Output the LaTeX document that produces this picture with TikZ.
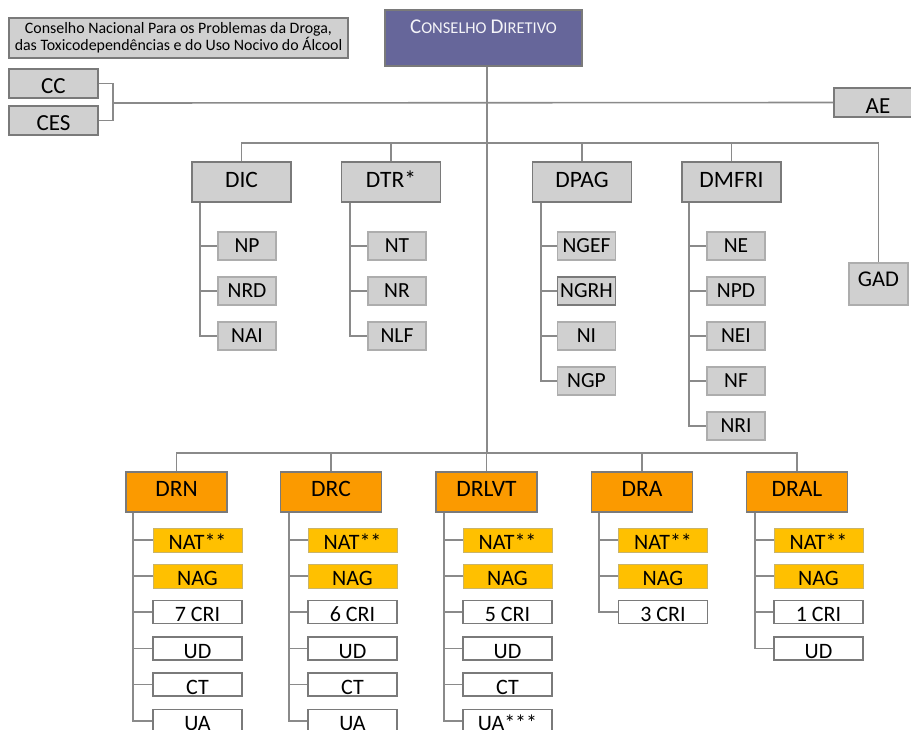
\documentclass[tikz,border=0pt]{standalone}
\usepackage{fontspec}
\setmainfont{Carlito}
\definecolor{boxgray}{HTML}{D0D0D0}
\definecolor{linegray}{HTML}{8A8A8A}
\definecolor{edgegray}{HTML}{7A7A7A}
\definecolor{cdpurple}{HTML}{66669A}
\definecolor{droranje}{HTML}{FB9A00}
\definecolor{natyellow}{HTML}{FFC000}
\definecolor{natedge}{HTML}{C9B46A}
\newcommand{\fsz}[1]{\fontsize{#1}{#1}\selectfont}
\newcommand{\smcap}[2]{{\fsz{21}#1}{\fsz{16.5}#2}}
\tikzset{
	link/.style={draw=linegray,line width=1.6pt},
	topbox/.style={draw=edgegray,fill=boxgray,line width=1.6pt,inner sep=0pt,font=\fsz{23},text height=24pt,text depth=5pt},
	dirbox/.style={draw=edgegray,fill=boxgray,line width=1.6pt,inner sep=0pt,minimum width=99pt,text height=25pt,text depth=15pt,font=\fsz{23.5}},
	subbox/.style={draw=linegray!70,fill=boxgray,line width=1.2pt,inner sep=0pt,minimum width=58pt,minimum height=28pt,font=\fsz{21.5}},
	regbox/.style={draw=edgegray,fill=droranje,line width=1.6pt,inner sep=0pt,minimum width=101pt,text height=24pt,text depth=16pt,font=\fsz{23.5}},
	natbox/.style={draw=natedge,fill=natyellow,line width=0.8pt,inner sep=0pt,minimum width=89pt,text height=21pt,text depth=3pt,font=\fsz{22}},
	udbox/.style={draw=edgegray,fill=white,line width=1.6pt,inner sep=0pt,minimum width=89pt,text height=21pt,text depth=2pt,font=\fsz{22}},
}
\begin{document}
\begin{tikzpicture}[x=1pt,y=-1pt]
	\useasboundingbox (0,0) rectangle (911,729);
	\clip (0,0) rectangle (911,729);
	% top
	\node[draw=edgegray,fill=boxgray,line width=1.6pt,inner sep=0pt,minimum width=339pt,minimum height=40pt,align=center,font=\fsz{15.9}] (cnpd) at (178.5,38) {Conselho Nacional Para os Problemas da Droga,\\[0pt]das Toxicodependências e do Uso Nocivo do Álcool};
	\node[draw=edgegray,fill=cdpurple,line width=1.6pt,inner sep=0pt,minimum width=197pt,text height=23pt,text depth=33pt,text=white!93!cdpurple,font=\fsz{17}] (cd) at (483.5,38) {\smcap{C}{ONSELHO} \smcap{D}{IRETIVO}};
	\node[topbox,minimum width=89pt] (cc) at (53.5,83.5) {CC};
	\node[topbox,minimum width=89pt] (ces) at (53.5,120.5) {CES};
	\node[topbox,minimum width=88pt,text height=25pt,text depth=4pt] (ae) at (878,102.5) {AE};
	\coordinate (brk) at (113,103);
	\coordinate (bus1) at (487,143);
	\coordinate (bus2) at (487,453);
	\draw[link] (cc.east) -| (brk) |- (ces.east);
	\draw[link] (brk) -- (ae.west);
	\draw[link] (cd.south -| bus1) -- (bus2);
	% direcoes
	\node[dirbox] (dic) at (241.5,182) {DIC};
	\node[dirbox] (dtr) at (391,182) {DTR*};
	\node[dirbox] (dpag) at (582,182) {DPAG};
	\node[dirbox] (dmfri) at (731.5,182) {DMFRI};
	\node[subbox,minimum width=59pt,text height=23pt,text depth=19pt,font=\fsz{22.5}] (gad) at (878.5,284) {GAD};
	\draw[link] (dic.north) |- (gad.north |- bus1) -- (gad.north);
	\draw[link] (dtr.north) -- (dtr.north |- bus1);
	\draw[link] (dpag.north) -- (dpag.north |- bus1);
	\draw[link] (dmfri.north) -- (dmfri.north |- bus1);
	\node[subbox] (np) at (247,246) {NP};
	\node[subbox] (nrd) at (247,291) {NRD};
	\node[subbox] (nai) at (247,336) {NAI};
	\draw[link] ([xshift=9pt]dic.south west) |- (nai.west);
	\draw[link] ([xshift=9pt]dic.south west |- np) -- (np.west);
	\draw[link] ([xshift=9pt]dic.south west |- nrd) -- (nrd.west);
	\node[subbox] (nt) at (397,246) {NT};
	\node[subbox] (nr) at (397,291) {NR};
	\node[subbox] (nlf) at (397,336) {NLF};
	\draw[link] ([xshift=9pt]dtr.south west) |- (nlf.west);
	\draw[link] ([xshift=9pt]dtr.south west |- nt) -- (nt.west);
	\draw[link] ([xshift=9pt]dtr.south west |- nr) -- (nr.west);
	\node[subbox] (ngef) at (586.5,246) {NGEF};
	\node[subbox,draw=edgegray,line width=1.8pt] (ngrh) at (586.5,291) {NGRH};
	\node[subbox] (ni) at (586.5,336) {NI};
	\node[subbox] (ngp) at (586.5,381) {NGP};
	\draw[link] ([xshift=9pt]dpag.south west) |- (ngp.west);
	\draw[link] ([xshift=9pt]dpag.south west |- ngef) -- (ngef.west);
	\draw[link] ([xshift=9pt]dpag.south west |- ngrh) -- (ngrh.west);
	\draw[link] ([xshift=9pt]dpag.south west |- ni) -- (ni.west);
	\node[subbox] (ne) at (736,246) {NE};
	\node[subbox] (npd) at (736,291) {NPD};
	\node[subbox] (nei) at (736,336) {NEI};
	\node[subbox] (nf) at (736,381) {NF};
	\node[subbox] (nri) at (736,426) {NRI};
	\draw[link] ([xshift=8pt]dmfri.south west) |- (nri.west);
	\draw[link] ([xshift=8pt]dmfri.south west |- ne) -- (ne.west);
	\draw[link] ([xshift=8pt]dmfri.south west |- npd) -- (npd.west);
	\draw[link] ([xshift=8pt]dmfri.south west |- nei) -- (nei.west);
	\draw[link] ([xshift=8pt]dmfri.south west |- nf) -- (nf.west);
	% regioes
	\node[regbox] (drn) at (176.5,492) {DRN};
	\node[regbox] (drc) at (331,492) {DRC};
	\node[regbox] (drlvt) at (486.5,492) {DRLVT};
	\node[regbox] (dra) at (642,492) {DRA};
	\node[regbox] (dral) at (797,492) {DRAL};
	\draw[link] (drn.north) |- (dral.north |- bus2) -- (dral.north);
	\draw[link] (drc.north) -- (drc.north |- bus2);
	\draw[link] (drlvt.north) -- (drlvt.north |- bus2);
	\draw[link] (dra.north) -- (dra.north |- bus2);
	% DRN
	\node[natbox] (drnnat) at (197.5,540) {NAT**};
	\node[natbox] (drnnag) at (197.5,576) {NAG};
	\node[udbox] (drncri) at (197.5,612) {7 CRI};
	\node[udbox] (drnud) at (197.5,648.5) {UD};
	\node[udbox] (drnct) at (197.5,684.5) {CT};
	\node[udbox] (drnua) at (197.5,721) {UA};
	\draw[link] ([xshift=8pt]drn.south west) |- (drnua.west);
	\foreach \n in {drnnat,drnnag,drncri,drnud,drnct}
		\draw[link] ([xshift=8pt]drn.south west |- \n) -- (\n.west);
	% DRC
	\node[natbox] (drcnat) at (352.5,540) {NAT**};
	\node[natbox] (drcnag) at (352.5,576) {NAG};
	\node[udbox] (drccri) at (352.5,612) {6 CRI};
	\node[udbox] (drcud) at (352.5,648.5) {UD};
	\node[udbox] (drcct) at (352.5,684.5) {CT};
	\node[udbox] (drcua) at (352.5,721) {UA};
	\draw[link] ([xshift=9pt]drc.south west) |- (drcua.west);
	\foreach \n in {drcnat,drcnag,drccri,drcud,drcct}
		\draw[link] ([xshift=9pt]drc.south west |- \n) -- (\n.west);
	% DRLVT
	\node[natbox] (lvtnat) at (507.5,540) {NAT**};
	\node[natbox] (lvtnag) at (507.5,576) {NAG};
	\node[udbox] (lvtcri) at (507.5,612) {5 CRI};
	\node[udbox] (lvtud) at (507.5,648.5) {UD};
	\node[udbox] (lvtct) at (507.5,684.5) {CT};
	\node[udbox] (lvtua) at (507.5,721) {UA***};
	\draw[link] ([xshift=9pt]drlvt.south west) |- (lvtua.west);
	\foreach \n in {lvtnat,lvtnag,lvtcri,lvtud,lvtct}
		\draw[link] ([xshift=9pt]drlvt.south west |- \n) -- (\n.west);
	% DRA
	\node[natbox] (dranat) at (663,540) {NAT**};
	\node[natbox] (dranag) at (663,576) {NAG};
	\node[udbox] (dracri) at (663,612) {3 CRI};
	\draw[link] ([xshift=8pt]dra.south west) |- (dracri.west);
	\foreach \n in {dranat,dranag}
		\draw[link] ([xshift=8pt]dra.south west |- \n) -- (\n.west);
	% DRAL
	\node[natbox] (dalnat) at (818.5,540) {NAT**};
	\node[natbox] (dalnag) at (818.5,576) {NAG};
	\node[udbox] (dalcri) at (818.5,612) {1 CRI};
	\node[udbox] (dalud) at (818.5,648.5) {UD};
	\draw[link] ([xshift=9pt]dral.south west) |- (dalud.west);
	\foreach \n in {dalnat,dalnag,dalcri}
		\draw[link] ([xshift=9pt]dral.south west |- \n) -- (\n.west);
\end{tikzpicture}
\end{document}
